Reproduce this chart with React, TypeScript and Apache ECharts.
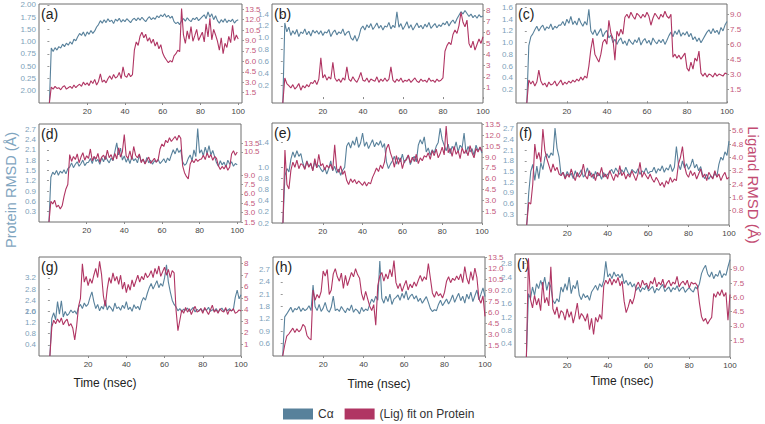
import React, { useEffect, useRef } from "react";
import * as echarts from "echarts";

// ---------- data ----------
const TIME = [0,1,2,3,4,5,6,7,8,9,10,11,12,13,14,15,16,17,18,19,20,21,22,23,24,25,26,27,28,29,30,31,32,33,34,35,36,37,38,39,40,41,42,43,44,45,46,47,48,49,50,51,52,53,54,55,56,57,58,59,60,61,62,63,64,65,66,67,68,69,70,71,72,73,74,75,76,77,78,79,80,81,82,83,84,85,86,87,88,89,90,91,92,93,94,95,96,97,98,99,100];
const X_TICKS = [20, 40, 60, 80, 100];

const A_CA = [0,1.12,1.05,1.13,1.08,1.15,1.12,1.2,1.15,1.22,1.18,1.25,1.2,1.3,1.27,1.35,1.42,1.38,1.45,1.36,1.45,1.4,1.48,1.42,1.47,1.55,1.6,1.68,1.63,1.7,1.64,1.72,1.66,1.69,1.62,1.71,1.67,1.73,1.65,1.7,1.66,1.72,1.68,1.64,1.7,1.73,1.68,1.74,1.69,1.75,1.7,1.66,1.72,1.76,1.7,1.74,1.71,1.78,1.74,1.8,1.76,1.82,1.75,1.79,1.73,1.77,1.66,1.62,1.65,1.6,1.68,1.72,1.67,1.74,1.69,1.66,1.73,1.7,1.75,1.68,1.72,1.76,1.8,1.72,1.86,1.75,1.82,1.7,1.78,1.68,1.63,1.7,1.65,1.72,1.64,1.69,1.66,1.71,1.63,1.68,1.7];
const A_LIG = [0,2.3,2.0,2.4,2.1,2.2,1.9,2.3,2.5,2.0,2.2,2.4,2.1,2.6,2.2,2.5,2.7,2.4,3.0,2.6,2.9,2.5,3.2,2.8,3.4,2.6,3.1,4.2,3.0,3.3,2.9,3.5,3.9,3.4,4.1,3.6,3.8,4.4,3.5,5.2,3.9,3.7,4.3,3.8,4.1,7.6,8.8,8.3,9.6,10.2,9.4,9.9,8.9,9.4,8.6,9.2,8.2,8.8,7.8,8.4,7.2,6.6,6.2,5.8,6.1,5.9,6.8,7.1,7.6,7.4,13.6,9.8,8.6,10.4,9.2,11.0,8.9,9.7,10.6,9.0,9.6,10.2,8.8,11.4,9.5,12.2,9.1,10.6,9.8,8.9,7.6,9.4,7.1,8.6,8.0,9.6,8.7,11.2,9.0,9.8,9.2];

const B_CA = [-0.1,1.25,1.1,1.18,1.04,1.12,1.06,1.14,1.02,1.1,1.07,1.15,1.05,1.11,1.03,1.13,1.08,1.12,1.06,1.12,1.04,1.1,1.08,1.14,1.02,1.09,1.13,1.05,1.1,1.07,1.15,1.04,1.09,1.11,1.0,0.96,1.04,0.94,1.02,1.15,1.2,1.13,1.22,1.17,1.24,1.14,1.19,1.25,1.16,1.21,1.13,1.2,1.18,1.26,1.15,1.21,1.17,1.44,1.18,1.24,1.14,1.2,1.27,1.16,1.22,1.13,1.19,1.25,1.17,1.21,1.15,1.23,1.18,1.26,1.16,1.2,1.24,1.17,1.22,1.19,1.25,1.22,1.28,1.2,1.26,1.3,1.24,1.32,1.38,1.44,1.4,1.46,1.41,1.36,1.4,1.34,1.38,1.33,1.39,1.35,1.37];
const B_LIG = [-0.35,1.9,1.4,1.2,1.0,1.3,0.9,1.1,1.4,0.8,1.2,1.0,1.3,1.1,1.5,1.4,1.7,1.3,1.8,3.7,1.9,2.2,1.7,2.0,1.8,3.3,1.9,1.6,1.8,1.5,1.9,1.7,2.9,1.8,1.6,2.0,1.7,1.5,1.9,2.4,1.7,1.6,1.9,1.5,1.8,1.7,1.6,2.0,1.5,1.8,1.6,1.9,1.6,1.8,2.9,1.7,1.5,1.8,1.6,1.9,1.5,1.7,1.6,1.8,1.5,1.7,1.9,1.6,1.5,1.8,1.6,1.7,1.5,1.9,1.6,1.7,1.5,1.8,1.6,1.7,1.9,4.3,4.8,5.1,4.9,5.8,6.2,5.9,6.6,7.8,6.9,6.5,7.1,5.0,4.6,5.2,4.4,4.9,5.4,5.0,5.6];

const C_CA = [-0.03,0.95,1.1,1.15,1.22,1.28,1.2,1.26,1.3,1.21,1.27,1.24,1.32,1.22,1.28,1.25,1.3,1.3,1.36,1.29,1.4,1.33,1.45,1.31,1.37,1.3,1.42,1.34,1.28,1.36,1.3,1.57,1.2,1.14,1.22,1.12,1.18,1.24,1.1,1.17,1.21,1.08,1.13,1.0,1.06,0.97,1.04,1.08,0.98,1.03,0.95,1.06,1.01,0.97,1.05,1.0,1.09,0.96,1.03,1.07,0.99,1.04,0.96,1.08,1.02,0.98,1.05,1.0,1.06,0.97,1.04,1.12,1.18,1.1,1.2,1.14,1.22,1.11,1.17,1.13,1.19,1.1,1.16,1.05,1.1,1.02,1.08,1.0,1.06,1.12,1.18,1.22,1.15,1.24,1.17,1.21,1.14,1.26,1.2,1.3,1.36];
const C_LIG = [0.1,2.4,2.0,2.3,1.8,2.2,3.4,2.3,1.9,2.1,1.7,2.2,1.9,2.0,2.3,1.8,2.1,2.4,1.9,2.2,2.0,2.3,2.1,2.4,2.2,2.5,2.3,2.7,2.4,2.8,2.6,3.8,5.5,6.6,5.0,4.6,4.2,5.0,6.2,6.5,6.0,8.4,7.1,6.6,4.4,7.3,6.8,7.5,7.0,8.7,9.0,8.6,9.2,8.8,8.5,9.1,8.9,8.6,9.0,8.7,9.2,8.8,7.9,8.6,9.1,8.8,8.5,9.0,8.7,9.3,8.8,8.6,9.0,4.7,5.0,4.6,4.9,4.5,4.8,5.1,3.6,3.3,4.2,3.5,4.6,4.3,5.3,3.1,2.8,3.1,2.7,3.0,2.9,2.7,3.1,2.8,3.0,2.9,2.8,3.1,3.0];

const D_CA = [0,1.3,1.45,1.38,1.5,1.36,1.48,1.42,1.52,1.4,1.55,1.6,1.72,1.58,1.68,1.75,1.62,1.7,1.8,1.64,1.72,1.74,1.85,1.7,1.9,1.76,1.82,1.68,1.88,1.75,1.92,1.8,1.72,1.86,1.78,2.05,2.3,1.95,2.15,1.8,1.92,1.74,1.86,1.7,1.9,1.78,1.84,1.72,1.95,1.76,1.82,1.7,1.88,1.72,1.8,1.68,1.78,1.74,1.82,1.7,1.76,1.84,1.72,1.86,1.78,1.95,2.1,1.98,2.15,2.02,2.1,1.75,1.65,1.7,1.85,1.95,1.78,2.1,1.9,2.72,2.0,2.1,1.92,2.18,1.98,2.22,1.95,2.08,1.9,1.72,1.62,1.78,1.66,1.74,1.6,1.8,1.68,1.75,1.62,1.7,1.66];
const D_LIG = [1.5,4.8,4.4,5.0,3.9,4.2,3.6,4.1,5.6,6.8,7.5,12.3,11.2,12.0,11.5,12.4,11.0,11.9,12.6,11.4,12.1,11.7,13.2,11.3,12.0,11.6,12.5,11.1,11.9,12.2,11.5,13.0,11.8,12.3,11.4,12.5,11.6,13.4,11.9,12.8,15.5,12.1,11.7,12.9,11.5,13.6,12.2,11.8,12.4,11.0,11.6,10.8,11.4,11.9,10.9,11.3,11.7,11.1,11.5,13.2,14.0,13.6,14.6,14.2,15.0,14.4,14.8,15.2,14.6,15.4,14.9,10.5,9.4,8.8,8.4,10.8,11.4,11.0,11.6,11.2,11.5,11.6,12.2,11.5,12.6,11.8,12.3,11.4,12.0,11.7,10.5,9.9,10.4,10.0,10.6,9.8,10.3,12.4,12.9,12.2,12.7];

const E_CA = [0,0.85,0.98,0.92,1.15,1.28,1.18,1.3,1.2,1.25,1.08,0.98,1.12,1.02,1.06,0.95,1.1,1.0,1.04,0.97,0.92,1.0,0.88,0.98,1.12,0.94,1.02,0.9,0.97,0.86,0.95,1.0,1.38,1.45,1.35,1.48,1.4,1.55,1.36,1.44,1.62,1.38,1.46,1.34,1.42,1.5,1.37,1.45,1.4,1.48,1.36,1.43,1.1,0.98,1.06,1.12,1.2,1.06,1.18,1.1,1.24,1.08,1.16,1.22,1.05,1.15,1.2,1.1,1.4,1.5,1.42,1.55,1.28,1.35,1.22,1.32,1.26,1.38,1.45,1.71,1.5,1.4,1.3,1.42,1.25,1.38,1.32,1.46,1.28,1.4,1.35,1.62,1.25,1.38,1.28,1.34,1.22,1.4,1.3,1.36,1.26];
const E_LIG = [-0.12,10.0,5.2,4.6,7.2,8.3,7.6,8.6,7.4,8.1,7.9,7.3,8.4,7.6,8.2,7.1,8.8,7.5,9.4,7.8,8.1,7.2,7.9,7.5,8.0,7.2,10.7,7.4,6.9,7.8,6.6,7.1,5.8,5.2,6.0,5.5,5.9,5.3,5.7,5.4,5.1,5.6,5.0,5.5,5.3,6.2,6.8,7.5,7.0,7.9,7.4,8.3,10.2,10.8,9.6,8.8,7.6,9.2,8.0,8.9,7.4,8.5,8.6,9.3,8.2,9.0,8.4,9.4,8.1,8.9,8.5,9.2,9.0,9.6,8.7,9.9,9.2,10.1,8.9,9.5,10.4,9.3,13.3,9.6,10.2,9.1,10.5,9.4,9.9,8.8,10.3,9.5,10.0,9.2,10.6,9.6,8.9,10.2,9.7,10.4,9.8];

const F_CA = [0,0.9,1.5,1.7,1.25,1.65,1.3,1.75,1.55,1.9,2.0,1.88,2.02,1.95,2.72,2.15,1.9,1.4,1.48,1.32,1.5,1.38,1.45,1.3,1.52,1.36,1.44,1.55,1.34,1.42,1.6,1.38,1.46,1.3,1.5,1.37,1.43,1.28,1.47,1.35,1.42,1.48,1.56,1.44,1.6,1.5,1.42,1.55,1.46,1.62,1.48,1.4,1.56,1.5,1.45,1.58,1.42,1.52,1.47,1.6,1.44,1.5,1.5,1.62,1.45,1.58,1.52,1.66,1.48,1.6,1.54,1.7,1.5,1.62,2.2,1.7,1.55,1.8,1.6,1.72,1.56,1.66,1.85,1.6,1.7,1.52,1.64,1.4,1.3,1.42,1.28,1.38,1.32,1.45,1.36,1.7,1.9,1.82,2.05,1.95,2.35];
const F_LIG = [-0.06,1.3,1.2,2.4,4.8,3.9,4.3,3.7,5.7,4.4,3.9,3.5,3.1,3.6,3.2,3.4,3.0,2.9,3.1,2.7,3.0,2.8,3.3,2.9,2.6,3.1,2.8,3.0,3.6,2.9,2.7,3.2,2.8,3.0,2.6,3.1,2.9,3.4,2.8,3.0,2.7,3.2,2.9,2.6,3.0,2.8,3.5,2.9,3.1,2.7,3.0,2.8,3.2,2.9,2.6,3.0,3.7,2.8,3.1,2.9,2.7,3.0,2.7,2.5,2.8,2.6,2.3,2.5,2.2,2.6,2.4,2.8,2.5,2.7,2.6,3.6,4.0,4.65,3.5,3.0,2.8,3.2,2.9,3.1,2.7,3.0,3.3,2.8,3.0,2.6,3.1,2.9,2.7,3.2,2.8,3.0,2.6,2.9,3.1,2.7,2.8];

const G_CA = [0,1.35,1.55,1.3,1.95,1.5,1.98,1.4,1.6,1.45,1.52,1.65,1.55,1.62,1.5,1.75,1.85,1.7,1.9,1.78,1.86,2.1,2.3,1.95,1.7,1.85,1.62,1.78,1.68,2.0,1.65,1.8,1.72,1.6,1.9,1.7,1.76,1.64,1.82,1.7,1.95,1.66,1.75,1.6,1.84,1.7,1.78,1.65,1.95,2.1,2.0,2.25,2.45,2.6,2.4,2.55,2.7,2.45,2.6,2.5,2.8,3.27,2.65,2.3,2.0,1.85,1.76,1.62,1.7,1.58,1.68,1.64,1.72,1.6,1.66,1.74,1.58,1.67,1.62,1.7,1.6,1.68,1.64,1.75,1.6,1.66,1.62,1.7,1.58,1.65,1.72,1.6,1.68,1.63,1.7,1.62,1.66,2.1,2.36,2.05,2.2];
const G_LIG = [0,2.5,3.1,2.8,3.2,2.9,3.3,2.7,3.0,3.2,2.6,2.8,2.4,1.4,2.6,4.3,5.0,8.0,6.4,6.9,6.1,6.7,6.3,7.0,7.6,6.8,8.2,7.1,5.2,4.3,5.8,6.8,6.3,7.2,6.5,6.9,6.2,7.0,5.8,6.4,5.5,6.2,5.7,6.6,6.0,6.5,7.0,6.4,6.9,6.6,7.2,6.8,7.0,7.4,6.8,7.6,7.1,7.8,6.9,7.3,7.7,7.0,7.5,6.8,7.4,7.2,4.0,2.2,3.1,4.0,3.7,4.2,3.8,4.1,3.6,4.0,4.3,3.8,3.9,4.1,3.7,4.2,3.9,3.6,4.0,4.4,3.8,4.0,3.7,4.1,3.9,3.8,4.2,3.6,4.0,3.9,4.1,3.7,3.8,4.0,3.9];

const H_CA = [0.6,1.55,1.62,1.7,1.78,1.66,1.75,1.72,1.8,1.68,1.76,1.7,1.74,1.82,1.7,2.32,1.8,1.7,1.85,1.68,1.76,1.9,1.72,1.66,1.78,2.05,1.7,1.74,1.68,1.8,1.72,1.65,1.76,1.7,1.84,1.66,1.74,1.7,1.62,1.78,1.68,1.74,1.7,1.85,1.98,1.9,2.05,1.95,2.9,2.0,1.88,2.05,1.92,2.1,1.85,1.98,2.02,2.08,1.95,2.12,2.0,2.18,1.96,2.05,2.1,1.98,2.06,1.92,2.0,1.88,1.96,2.04,1.9,1.75,1.68,1.72,1.7,1.85,1.95,1.82,1.9,1.98,1.86,1.95,2.08,1.9,2.02,2.12,1.94,2.05,1.88,2.1,1.98,2.15,1.92,2.06,2.2,1.96,2.1,2.25,2.04];
const H_LIG = [0,1.5,2.7,3.0,3.4,3.8,3.2,3.7,3.3,3.6,4.3,4.0,2.8,2.4,2.2,9.0,7.6,8.4,7.9,8.8,11.6,10.9,11.8,8.4,9.0,11.2,11.9,10.8,10.2,11.3,9.2,11.0,9.6,10.5,11.4,10.8,11.9,11.1,10.6,8.5,7.6,8.8,7.8,6.8,6.2,7.0,4.2,9.6,10.9,11.4,10.2,11.2,10.5,11.8,10.8,13.0,10.0,9.2,9.9,8.8,9.6,10.3,9.0,9.8,9.3,10.1,9.5,10.3,11.0,10.2,10.8,10.4,12.6,10.6,8.6,8.0,8.8,8.2,8.5,7.9,8.7,10.2,10.8,10.0,10.6,10.3,10.9,10.4,11.2,10.0,12.2,10.6,9.8,11.5,10.3,12.0,10.7,7.8,7.2,8.2,5.4];

const I_CA = [0,1.9,1.75,2.1,1.85,2.2,2.05,2.3,2.1,2.4,2.0,2.25,2.1,1.7,1.6,1.75,1.65,2.1,1.95,2.2,2.0,2.4,1.9,2.15,2.05,2.3,1.85,1.72,1.9,1.78,1.85,1.7,1.95,2.05,2.15,2.0,2.2,2.1,2.3,2.87,2.4,2.5,2.35,2.55,2.42,2.48,2.38,2.5,2.2,2.3,2.15,2.25,2.1,2.2,2.0,2.1,1.95,2.08,2.02,2.15,1.98,2.05,2.12,1.92,2.06,2.0,2.1,2.18,1.96,2.04,2.1,1.95,2.08,2.02,2.14,1.97,2.05,2.1,1.94,2.02,2.08,2.0,1.95,2.1,2.04,2.2,2.5,2.65,2.75,2.5,2.4,2.55,2.35,2.48,2.42,2.6,2.38,2.5,2.45,2.7,2.92];
const I_LIG = [-0.26,10.1,5.8,4.9,6.2,5.2,5.9,4.6,7.6,5.4,6.0,5.1,9.2,4.8,4.2,5.0,3.8,4.6,4.4,3.6,4.8,3.9,4.5,3.3,4.2,5.4,3.7,4.3,4.0,3.5,4.3,2.6,3.8,2.1,3.9,3.4,4.2,3.7,7.2,7.8,7.4,8.0,7.3,7.9,7.5,8.1,7.2,7.7,5.6,4.4,5.0,5.8,5.3,6.0,7.2,7.6,7.0,7.8,7.3,7.5,6.9,7.7,7.4,8.1,7.1,7.6,7.3,7.9,7.0,7.5,7.8,7.2,7.6,7.4,8.2,7.1,7.5,7.7,7.3,7.8,7.0,7.6,7.4,7.5,7.2,5.4,4.0,3.5,3.8,3.2,3.6,3.9,6.4,6.0,6.6,6.2,6.8,6.1,6.5,3.6,6.3];

// ---------- tick values and tick labels ----------
const A_L_TICKS = [0.25, 0.5, 0.75, 1.0, 1.25, 1.5, 1.75, 2.0];
const A_L_LABELS = ["2.00", "0.25", "0.50", "0.75", "1.00", "1.50", "1.75", "2.00"];
const A_R_TICKS = [1.5, 3, 4.5, 6, 7.5, 9, 10.5, 12, 13.5];
const A_R_LABELS = ["1.5", "3.0", "4.5", "6.0", "7.5", "9.0", "10.5", "12.0", "13.5"];
const B_L_TICKS = [0.2, 0.4, 0.6, 0.8, 1.0, 1.2, 1.4];
const B_L_LABELS = ["0.2", "0.4", "0.6", "0.8", "1.0", "1.2", "1.4"];
const B_R_TICKS = [1, 2, 3, 4, 5, 6, 7, 8];
const B_R_LABELS = ["1", "2", "3", "4", "5", "6", "7", "8"];
const C_L_TICKS = [0.2, 0.4, 0.6, 0.8, 1.0, 1.2, 1.4, 1.6];
const C_L_LABELS = ["0.2", "0.4", "0.6", "0.8", "1.0", "1.2", "1.4", "1.6"];
const C_R_TICKS = [1.5, 3, 4.5, 6, 7.5, 9];
const C_R_LABELS = ["1.5", "3.0", "4.5", "6.0", "7.5", "9.0"];
const D_L_TICKS = [0.3, 0.6, 0.9, 1.2, 1.5, 1.8, 2.1, 2.4, 2.7];
const D_L_LABELS = ["0.3", "0.6", "0.9", "1.2", "1.5", "1.8", "2.1", "2.4", "2.7"];
const D_R_TICKS = [1.5, 3, 4.5, 6, 7.5, 9, 12.75, 14.15, 14.22];
const D_R_LABELS = ["1.5", "3.0", "4.5", "6.0", "7.5", "9.0", "10.5", "13.5", "12.0"];
const E_L_TICKS = [0, 0.2, 0.4, 0.6, 0.8, 1.0, 1.45];
const E_L_LABELS = ["0.2", "0.2", "0.4", "0.8", "0.8", "1.0", "1.4"];
const E_R_TICKS = [1.5, 3, 4.5, 6, 7.5, 9, 10.5, 12, 13.5];
const E_R_LABELS = ["1.5", "3.0", "4.5", "6.0", "7.5", "9.0", "10.5", "12.0", "13.5"];
const F_L_TICKS = [0.3, 0.6, 0.9, 1.2, 1.5, 1.8, 2.1, 2.4, 2.7];
const F_L_LABELS = ["0.3", "0.6", "0.9", "1.2", "1.5", "1.8", "2.1", "2.4", "2.7"];
const F_R_TICKS = [0.8, 1.6, 2.4, 3.2, 4.0, 4.8, 5.6];
const F_R_LABELS = ["0.8", "1.6", "2.4", "3.2", "4.0", "4.8", "5.6"];
const G_L_TICKS = [0.4, 0.8, 1.2, 1.6, 1.6005, 2.0, 2.4, 2.8];
const G_L_LABELS = ["0.4", "0.8", "1.2", "1.6", "2.0", "2.4", "2.8", "3.2"];
const G_R_TICKS = [1, 2, 3, 4, 5, 6, 7, 8];
const G_R_LABELS = ["1", "2", "3", "4", "5", "6", "7", "8"];
const H_L_TICKS = [0.9, 1.2, 1.5, 1.8, 2.1, 2.4, 2.7];
const H_L_LABELS = ["0.6", "0.9", "1.2", "1.8", "2.1", "2.4", "2.7"];
const H_R_TICKS = [1.5, 3, 4.5, 6, 7.5, 9, 10.5, 12, 13.5];
const H_R_LABELS = ["1.5", "3.0", "4.5", "6.0", "7.5", "9.0", "10.5", "12.0", "13.5"];
const I_L_TICKS = [0.4, 0.8, 1.2, 1.6, 2.0, 2.4, 2.8];
const I_L_LABELS = ["0.4", "0.8", "1.2", "1.6", "2.0", "2.4", "2.8"];
const I_R_TICKS = [1.5, 3, 4.5, 6, 7.5, 9];
const I_R_LABELS = ["1.5", "3.0", "4.5", "6.0", "7.5", "9.0"];

const PANEL_TAGS = ["(a)", "(b)", "(c)", "(d)", "(e)", "(f)", "(g)", "(h)", "(i)"];
const SERIES_NAMES = ["Cα", "(Lig) fit on Protein"];

// ---------- layout & style ----------
const FONT = "'Liberation Sans', Arial, Helvetica, sans-serif";
const BLUE = "#58819b";
const RED = "#b03563";
const LEFT_LABEL = "#7d9fba";
const RIGHT_LABEL = "#c4587b";

type Ax = { min: number; max: number; ticks: number[]; labels: string[] };
type Panel = {
  grid: { left: number; top: number; width: number; height: number };
  xMin: number; xMax: number;
  yl: Ax; yr: Ax; ca: number[]; lig: number[];
};

const PANELS: Panel[] = [
  { grid: { left: 39, top: 4, width: 203, height: 99 }, xMin: -5.5, xMax: 102,
    yl: { min: 0, max: 2.02, ticks: A_L_TICKS, labels: A_L_LABELS }, yr: { min: 0, max: 14.26, ticks: A_R_TICKS, labels: A_R_LABELS }, ca: A_CA, lig: A_LIG },
  { grid: { left: 272, top: 4, width: 211, height: 99 }, xMin: -5.4, xMax: 100,
    yl: { min: -0.1, max: 1.57, ticks: B_L_TICKS, labels: B_L_LABELS }, yr: { min: -0.35, max: 8.54, ticks: B_R_TICKS, labels: B_R_LABELS }, ca: B_CA, lig: B_LIG },
  { grid: { left: 516, top: 4, width: 211, height: 99 }, xMin: -5.4, xMax: 100,
    yl: { min: -0.03, max: 1.66, ticks: C_L_TICKS, labels: C_L_LABELS }, yr: { min: 0.1, max: 10.03, ticks: C_R_TICKS, labels: C_R_LABELS }, ca: C_CA, lig: C_LIG },
  { grid: { left: 39, top: 124, width: 202, height: 98 }, xMin: -5.3, xMax: 102,
    yl: { min: 0, max: 2.85, ticks: D_L_TICKS, labels: D_L_LABELS }, yr: { min: 1.5, max: 17.2, ticks: D_R_TICKS, labels: D_R_LABELS }, ca: D_CA, lig: D_LIG },
  { grid: { left: 272, top: 123, width: 210, height: 100 }, xMin: -5.5, xMax: 100,
    yl: { min: 0, max: 1.8, ticks: E_L_TICKS, labels: E_L_LABELS }, yr: { min: -0.12, max: 13.73, ticks: E_R_TICKS, labels: E_R_LABELS }, ca: E_CA, lig: E_LIG },
  { grid: { left: 517, top: 123, width: 212, height: 102 }, xMin: -4.8, xMax: 100,
    yl: { min: 0, max: 2.86, ticks: F_L_TICKS, labels: F_L_LABELS }, yr: { min: -0.06, max: 6.06, ticks: F_R_TICKS, labels: F_R_LABELS }, ca: F_CA, lig: F_LIG },
  { grid: { left: 39, top: 257, width: 202, height: 99 }, xMin: -5.7, xMax: 100,
    yl: { min: 0, max: 3.55, ticks: G_L_TICKS, labels: G_L_LABELS }, yr: { min: 0, max: 8.58, ticks: G_R_TICKS, labels: G_R_LABELS }, ca: G_CA, lig: G_LIG },
  { grid: { left: 273, top: 257, width: 212, height: 99 }, xMin: -4.8, xMax: 100,
    yl: { min: 0.6, max: 3.0, ticks: H_L_TICKS, labels: H_L_LABELS }, yr: { min: 0, max: 13.5, ticks: H_R_TICKS, labels: H_R_LABELS }, ca: H_CA, lig: H_LIG },
  { grid: { left: 515, top: 254, width: 215, height: 103 }, xMin: -5.6, xMax: 100,
    yl: { min: 0, max: 3.09, ticks: I_L_TICKS, labels: I_L_LABELS }, yr: { min: -0.26, max: 10.55, ticks: I_R_TICKS, labels: I_R_LABELS }, ca: I_CA, lig: I_LIG },
];

const fmt = (ticks: number[], labels: string[]) => (v: number) => {
  const i = ticks.findIndex((t) => Math.abs(t - v) < 1e-6);
  return i >= 0 ? labels[i] : "";
};

function buildOption() {
  const grid: any[] = [];
  const xAxis: any[] = [];
  const yAxis: any[] = [];
  const series: any[] = [];
  const graphic: any[] = [];

  PANELS.forEach((p, i) => {
    grid.push({ ...p.grid, show: true, borderColor: "#6e6e6e", borderWidth: 1, backgroundColor: "transparent" });
    xAxis.push({
      type: "value", gridIndex: i, min: p.xMin, max: p.xMax,
      axisLine: { show: false }, splitLine: { show: false },
      axisTick: { show: true, length: 2, customValues: X_TICKS, lineStyle: { color: "#888" } },
      axisLabel: { customValues: X_TICKS, formatter: (v: number) => String(v), color: "#444", fontSize: 8, fontFamily: FONT, margin: 4 },
    });
    const mkY = (a: Ax, pos: string, color: string) => ({
      type: "value", gridIndex: i, position: pos, min: a.min, max: a.max,
      axisLine: { show: false }, splitLine: { show: false },
      axisTick: { show: true, length: 2, customValues: a.ticks, lineStyle: { color: "#999" } },
      axisLabel: { customValues: a.ticks, formatter: fmt(a.ticks, a.labels), color, fontSize: 8, fontFamily: FONT, margin: 3 },
    });
    yAxis.push(mkY(p.yl, "left", LEFT_LABEL));
    yAxis.push(mkY(p.yr, "right", RIGHT_LABEL));
    series.push({
      type: "line", name: SERIES_NAMES[0], xAxisIndex: i, yAxisIndex: 2 * i,
      data: TIME.map((t, k) => [t, p.ca[k]]), showSymbol: false, color: BLUE,
      lineStyle: { color: BLUE, width: 1.1 }, silent: true,
    });
    series.push({
      type: "line", name: SERIES_NAMES[1], xAxisIndex: i, yAxisIndex: 2 * i + 1,
      data: TIME.map((t, k) => [t, p.lig[k]]), showSymbol: false, color: RED,
      lineStyle: { color: RED, width: 1.1 }, silent: true,
    });
    graphic.push({
      type: "text", left: p.grid.left + 2, top: p.grid.top + 3,
      style: { text: PANEL_TAGS[i], fontSize: 14, fontFamily: FONT, fill: "#222" },
    });
  });

  const timeLabels = [
    { x: 105, y: 383 },
    { x: 379, y: 384 },
    { x: 622, y: 381 },
  ];
  timeLabels.forEach((t) =>
    graphic.push({
      type: "text", x: t.x, y: t.y,
      style: { text: "Time (nsec)", fontSize: 12, fontFamily: FONT, fill: "#222", align: "center", verticalAlign: "middle" },
    })
  );
  graphic.push({
    type: "text", x: 11, y: 190, rotation: Math.PI / 2,
    style: { text: "Protein RMSD (Å)", fontSize: 14.5, fontFamily: FONT, fill: "#7fa5c0", align: "center", verticalAlign: "middle" },
  });
  graphic.push({
    type: "text", x: 753, y: 185, rotation: -Math.PI / 2,
    style: { text: "Ligand RMSD (Å)", fontSize: 15, fontFamily: FONT, fill: "#c24b72", align: "center", verticalAlign: "middle" },
  });

  return {
    animation: false,
    backgroundColor: "#ffffff",
    grid, xAxis, yAxis, series, graphic,
    legend: {
      data: SERIES_NAMES, left: 278, top: 403, icon: "rect", itemWidth: 30, itemHeight: 11, itemGap: 11,
      selectedMode: false, textStyle: { fontSize: 12, color: "#333", fontFamily: FONT },
    },
  };
}

export default function App() {
  const ref = useRef<HTMLDivElement>(null);
  useEffect(() => {
    if (!ref.current) return;
    const chart = echarts.init(ref.current, undefined, { renderer: "svg" });
    chart.setOption(buildOption() as any);
    return () => chart.dispose();
  }, []);
  return <div ref={ref} style={{ position: "absolute", left: 0, top: 0, width: 765, height: 424 }} />;
}
